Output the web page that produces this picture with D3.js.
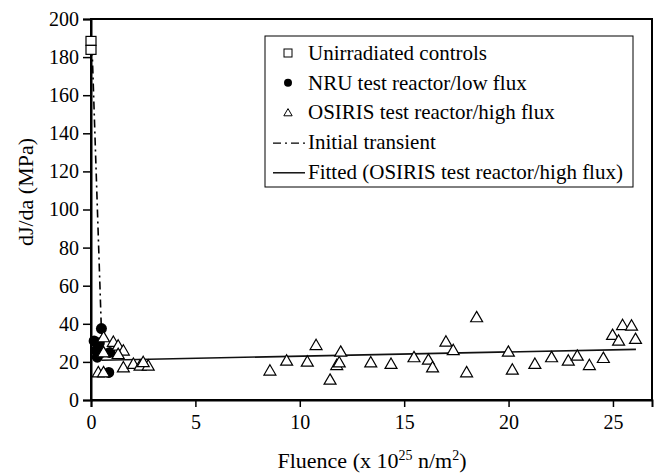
<!DOCTYPE html>
<html>
<head>
<meta charset="utf-8">
<script src="https://cdn.jsdelivr.net/npm/d3@7"></script>
<style>
  body { margin: 0; background: #fff; }
</style>
</head>
<body>
<svg id="chart"></svg>
<script>
// unirradiated controls (fluence, dJ/da)
const controls = [[0, 188.5], [0, 183.8]];

// NRU test reactor / low flux
const nru = [
  [0.5, 37.5], [0.15, 31], [0.4, 30], [0.3, 22.5],
  [0.5, 25], [0.9, 25], [0.85, 14.5], [0.25, 26]
];

// OSIRIS test reactor / high flux
const osiris = [
  [0.6, 32.4], [1.07, 30], [1.3, 28], [1.55, 25.4], [0.6, 24.5], [1.3, 23.6],
  [1.55, 16.6], [0.35, 14], [0.6, 14], [2.03, 18.4], [2.35, 17.5], [2.74, 17.5],
  [2.5, 19.3],
  [8.57, 14.9], [9.37, 20.1], [10.36, 19.6], [10.78, 28.3], [11.45, 10.1],
  [11.77, 17.8], [11.89, 19.2], [11.96, 24.8], [13.4, 19.2], [14.37, 18.4],
  [15.47, 21.9], [16.16, 20.6], [16.36, 16.6], [17.0, 30.1], [17.35, 25.6],
  [17.99, 14], [18.47, 42.9], [19.99, 24.8], [20.18, 15.4], [21.26, 18.4],
  [22.06, 21.9], [22.86, 20.1], [23.29, 22.7], [23.87, 17.8], [24.54, 21.5],
  [24.98, 33.6], [25.27, 30.6], [25.46, 38.8], [25.89, 38.5], [26.08, 31.5]
];

// initial transient (dash-dot) and fitted line (solid)
const transient = [[0.05, 185], [0.5, 36]];
const fitted = [[0.5, 20.9], [26.1, 26.6]];

const xTicks = [0, 5, 10, 15, 20, 25];
const yTicks = [0, 20, 40, 60, 80, 100, 120, 140, 160, 180, 200];

const legendItems = [
  { label: "Unirradiated controls", kind: "square" },
  { label: "NRU test reactor/low flux", kind: "circle" },
  { label: "OSIRIS test reactor/high flux", kind: "triangle" },
  { label: "Initial transient", kind: "dashdot" },
  { label: "Fitted (OSIRIS test reactor/high flux)", kind: "solid" }
];

const width = 657, height = 474;
const margin = { top: 19, right: 5, bottom: 74, left: 91 };
const serif = "Liberation Serif";

const svg = d3.select("#chart").attr("width", width).attr("height", height);

const x = d3.scaleLinear().domain([0, 26.87]).range([margin.left, width - margin.right]);
const y = d3.scaleLinear().domain([0, 200]).range([height - margin.bottom, margin.top]);

// frame
svg.append("rect")
  .attr("x", x(0)).attr("y", y(200))
  .attr("width", x(26.87) - x(0)).attr("height", y(0) - y(200))
  .attr("fill", "none").attr("stroke", "#000").attr("stroke-width", 2);

// axes
const xAxis = svg.append("g")
  .attr("transform", "translate(0," + y(0) + ")")
  .call(d3.axisBottom(x).tickValues(xTicks).tickSize(7).tickPadding(8));
const yAxis = svg.append("g")
  .attr("transform", "translate(" + x(0) + ",0)")
  .call(d3.axisLeft(y).tickValues(yTicks).tickSize(8).tickPadding(4));

[xAxis, yAxis].forEach(g => {
  g.attr("font-family", null);
  g.select(".domain").attr("stroke-width", 2);
  g.selectAll(".tick line").attr("stroke-width", 1.5);
  g.selectAll("text")
    .style("font-family", serif)
    .attr("font-size", 20)
    .attr("fill", "#000");
});

// lines
const line = d3.line().x(d => x(d[0])).y(d => y(d[1]));

svg.append("path")
  .datum(transient)
  .attr("d", line)
  .attr("fill", "none").attr("stroke", "#000").attr("stroke-width", 1.6)
  .attr("stroke-dasharray", "8,4,2,4");

svg.append("path")
  .datum(fitted)
  .attr("d", line)
  .attr("fill", "none").attr("stroke", "#111").attr("stroke-width", 1.6);

// markers
const tri = d3.symbol(d3.symbolTriangle, 62);

svg.selectAll(".ctrl")
  .data(controls).enter().append("rect")
  .attr("class", "ctrl")
  .attr("x", d => x(d[0]) - 5).attr("y", d => y(d[1]) - 4.5)
  .attr("width", 10).attr("height", 9)
  .attr("fill", "#fff").attr("stroke", "#000").attr("stroke-width", 1.2);

svg.selectAll(".nru")
  .data(nru).enter().append("circle")
  .attr("class", "nru")
  .attr("cx", d => x(d[0])).attr("cy", d => y(d[1]))
  .attr("r", 5.5).attr("fill", "#000");

svg.selectAll(".osiris")
  .data(osiris).enter().append("path")
  .attr("class", "osiris")
  .attr("d", tri)
  .attr("transform", d => "translate(" + x(d[0]) + "," + y(d[1]) + ")")
  .attr("fill", "#fff").attr("stroke", "#000").attr("stroke-width", 1.2);

// legend
const lg = svg.append("g");
lg.append("rect")
  .attr("x", 265).attr("y", 36).attr("width", 368).attr("height", 151)
  .attr("fill", "#fff").attr("stroke", "#000").attr("stroke-width", 1);

const rows = lg.selectAll(".row")
  .data(legendItems).enter().append("g")
  .attr("class", "row")
  .attr("transform", (d, i) => "translate(0," + (53 + i * 29.7) + ")");

rows.each(function(d) {
  const g = d3.select(this);
  if (d.kind === "square") {
    g.append("rect").attr("x", 284).attr("y", -4).attr("width", 8).attr("height", 8)
      .attr("fill", "#fff").attr("stroke", "#000").attr("stroke-width", 1);
  } else if (d.kind === "circle") {
    g.append("circle").attr("cx", 288).attr("cy", 0).attr("r", 4).attr("fill", "#000");
  } else if (d.kind === "triangle") {
    g.append("path").attr("d", d3.symbol(d3.symbolTriangle, 30))
      .attr("transform", "translate(288,1)")
      .attr("fill", "#fff").attr("stroke", "#000").attr("stroke-width", 1);
  } else {
    g.append("line").attr("x1", 273).attr("x2", 305).attr("y1", 1).attr("y2", 1)
      .attr("stroke", "#000").attr("stroke-width", 1.4)
      .attr("stroke-dasharray", d.kind === "dashdot" ? "8,4,2,4" : null);
  }
  g.append("text")
    .attr("x", 308).attr("y", 7)
    .style("font-family", serif)
    .attr("font-size", 21)
    .text(d.label);
});

// axis titles
const xt = svg.append("text")
  .attr("x", 372).attr("y", 468)
  .attr("text-anchor", "middle")
  .style("font-family", serif)
  .attr("font-size", 22);
xt.append("tspan").text("Fluence (x 10");
xt.append("tspan").attr("dy", -8).attr("font-size", 14).text("25");
xt.append("tspan").attr("dy", 8).text(" n/m");
xt.append("tspan").attr("dy", -8).attr("font-size", 14).text("2");
xt.append("tspan").attr("dy", 8).text(")");

svg.append("text")
  .attr("transform", "translate(33,192) rotate(-90)")
  .attr("text-anchor", "middle")
  .style("font-family", serif)
  .attr("font-size", 22)
  .text("dJ/da (MPa)");
</script>
</body>
</html>
